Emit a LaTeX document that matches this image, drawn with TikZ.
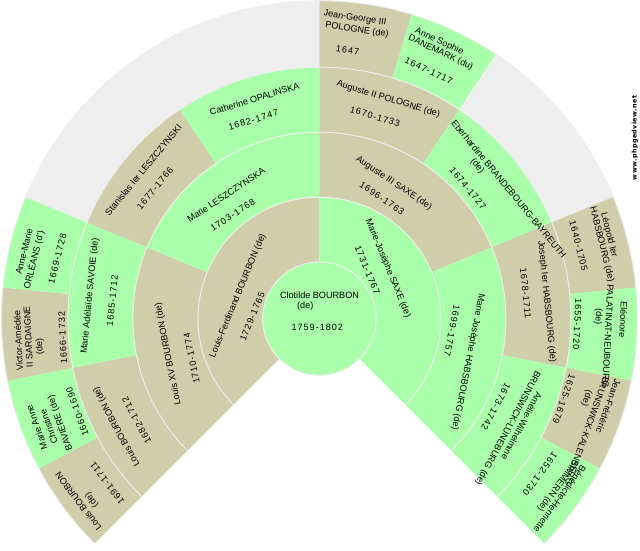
\documentclass[tikz,border=0pt]{standalone}
\usepackage{fontspec}
\setmainfont{Liberation Sans}
\newfontfamily\datefont[LetterSpace=11]{Liberation Sans}
\newfontfamily\urlfont[LetterSpace=6]{DejaVu Sans}
\definecolor{fangreen}{RGB}{170,255,170}
\definecolor{fantan}{RGB}{208,205,170}
\definecolor{fangrey}{RGB}{238,238,238}
\tikzset{
  lab/.style={inner sep=0pt,outer sep=0pt,font=\fontsize{9.1}{9.1}\selectfont,text=black},
  datelab/.style={inner sep=0pt,outer sep=0pt,font=\fontsize{9.1}{9.1}\datefont,text=black},
  mark url/.style={inner sep=0pt,font=\fontsize{6.4}{6.4}\urlfont\bfseries,text=black},
  ringline/.style={draw=fangrey,line width=1pt}
}
\newcommand\sect[5]{\fill[#5] (#1:#3) arc (#1:#2:#3) -- (#2:#4) arc (#2:#1:#4) -- cycle;}
\newcommand\lab[5]{\node[lab,rotate=#2] (#1) at (#3,550-#4) {#5};}
\newcommand\dat[5]{\node[datelab,rotate=#2] (#1) at (#3,550-#4) {#5};}
\begin{document}
\begin{tikzpicture}[x=1pt,y=1pt]
\useasboundingbox (0,0) rectangle (640,550);
\begin{scope}[shift={(319.4,231.3)}]
% generation 4
\sect{225}{208.125}{251.5}{318}{fantan}
\sect{208.125}{191.25}{251.5}{318}{fangreen}
\sect{191.25}{174.375}{251.5}{318}{fantan}
\sect{174.375}{157.5}{251.5}{318}{fangreen}
\sect{157.5}{90}{251.5}{318}{fangrey}
\sect{90}{73.125}{251.5}{318}{fantan}
\sect{73.125}{56.25}{251.5}{318}{fangreen}
\sect{56.25}{22.5}{251.5}{318}{fangrey}
\sect{22.5}{5.625}{251.5}{318}{fantan}
\sect{5.625}{-11.25}{251.5}{318}{fangreen}
\sect{-11.25}{-28.125}{251.5}{318}{fantan}
\sect{-28.125}{-45}{251.5}{318}{fangreen}
% generation 3
\sect{225}{191.25}{186.5}{251.5}{fantan}
\sect{191.25}{157.5}{186.5}{251.5}{fangreen}
\sect{157.5}{123.75}{186.5}{251.5}{fantan}
\sect{123.75}{90}{186.5}{251.5}{fangreen}
\sect{90}{56.25}{186.5}{251.5}{fantan}
\sect{56.25}{22.5}{186.5}{251.5}{fangreen}
\sect{22.5}{-11.25}{186.5}{251.5}{fantan}
\sect{-11.25}{-45}{186.5}{251.5}{fangreen}
% generation 2
\sect{225}{157.5}{121.5}{186.5}{fantan}
\sect{157.5}{90}{121.5}{186.5}{fangreen}
\sect{90}{22.5}{121.5}{186.5}{fantan}
\sect{22.5}{-45}{121.5}{186.5}{fangreen}
% generation 1
\sect{225}{90}{57}{121.5}{fantan}
\sect{90}{-45}{57}{121.5}{fangreen}
% ring lines
\draw[ringline] (225:318) arc (225:-45:318);
\draw[ringline] (225:251.5) arc (225:-45:251.5);
\draw[ringline] (225:186.5) arc (225:-45:186.5);
\draw[ringline] (225:121.5) arc (225:-45:121.5);
\fill[fangreen] (0,0) circle (56.7);
\draw[ringline] (0,0) circle (56.7);
\end{scope}
% centre
\lab{a1}{0}{319.5}{295.7}{Clotilde BOURBON}
\lab{a2}{0}{305.3}{306}{(de)}
\dat{a3}{0}{317.3}{327.3}{1759-1802}
% generation 1
\lab{b1}{67.5}{238}{296}{Louis-Ferdinand BOURBON (de)}
\dat{b2}{67.5}{252.3}{316.7}{1729-1765}
\lab{c1}{-67.5}{388}{268.3}{Marie-Josèphe SAXE (de)}
\dat{c2}{-67.5}{367.3}{270}{1731-1767}
% generation 2
\lab{d1}{101.25}{168.3}{354}{Louis XV BOURBON (de)}
\dat{d2}{101.25}{191.7}{358.3}{1710-1774}
\lab{e1}{33.75}{226}{195}{Marie LESZCZYNSKA}
\dat{e2}{33.75}{232.7}{215}{1703-1768}
\lab{f1}{-33.75}{394}{183.3}{Auguste III SAXE (de)}
\dat{f2}{-33.75}{382}{198.3}{1696-1763}
\lab{g1}{-101.25}{468}{362}{Marie Josèphe HABSBOURG (de)}
\dat{g2}{-101.25}{452}{330.7}{1699-1757}
% generation 3
\lab{h1}{118.125}{116.7}{426.7}{Louis BOURBON (de)}
\dat{h2}{118.125}{136.7}{420.7}{1682-1712}
\lab{i1}{84.375}{90}{296}{Marie Adélaïde SAVOIE (de)}
\dat{i2}{84.375}{112.3}{301}{1685-1712}
\lab{j1}{50.625}{143.3}{170}{Stanislas Ier LESZCZYNSKI}
\dat{j2}{50.625}{155}{188.3}{1677-1766}
\lab{k1}{16.875}{254.5}{99}{Catherine OPALINSKA}
\dat{k2}{16.875}{253.3}{120}{1682-1747}
\lab{l1}{-16.875}{388.3}{99.3}{Auguste II POLOGNE (de)}
\dat{l2}{-16.875}{375}{116.7}{1670-1733}
\lab{m1}{-50.625}{509}{189}{Eberhardine BRANDEBOURG-BAYREUTH}
\lab{m2}{-50.625}{477.3}{166}{(de)}
\dat{m3}{-50.625}{468}{188.3}{1674-1727}
\lab{n1}{-84.375}{546.7}{301.7}{Joseph Ier HABSBOURG (de)}
\dat{n2}{-84.375}{525.7}{293.3}{1678-1711}
\lab{o1}{-118.125}{521.7}{426}{Amélie-Wilhelmine}
\lab{o2}{-118.125}{508}{428.3}{BRUNSWICK-LÜNEBURG (de)}
\dat{o3}{-118.125}{496}{406.7}{1673-1742}
% generation 4
\lab{p1}{126.56}{78.3}{501.7}{Louis BOURBON}
\lab{p2}{126.56}{91.7}{500}{(de)}
\dat{p3}{126.56}{107.3}{483.3}{1691-1711}
\lab{q1}{109.69}{36.7}{427.3}{Marie Anne}
\lab{q2}{109.69}{48.7}{426.7}{Christine}
\lab{q3}{109.69}{60}{423}{BAVIÈRE (de)}
\dat{q4}{109.69}{77.3}{411.7}{1660-1690}
\lab{r1}{92.8}{18.3}{340.7}{Victor-Amédée}
\lab{r2}{92.8}{28.3}{336.7}{II SARDAIGNE}
\lab{r3}{92.8}{40}{346.7}{(de)}
\dat{r4}{92.8}{62.7}{337.7}{1666-1732}
\lab{s1}{75.94}{24}{251.3}{Anne-Marie}
\lab{s2}{75.94}{34}{260}{ORLÉANS (d')}
\dat{s3}{75.94}{57.3}{258.7}{1669-1728}
\lab{t1}{-8.44}{355}{18.3}{Jean-George III}
\lab{t2}{-8.44}{357}{30}{POLOGNE (de)}
\dat{t3}{-8.44}{347.7}{50}{1647}
\lab{u1}{-25.31}{439.3}{41.7}{Anne Sophie}
\lab{u2}{-25.31}{440.7}{52.7}{DANEMARK (du)}
\dat{u3}{-25.31}{428.7}{70.7}{1647-1717}
\lab{v1}{-75.94}{609}{235}{Léopold Ier}
\lab{v2}{-75.94}{601.7}{244.7}{HABSBOURG (de)}
\dat{v3}{-75.94}{578.7}{246}{1640-1705}
\lab{w1}{-92.8}{623.3}{320}{Eléonore}
\lab{w2}{-92.8}{608}{336}{PALATINAT-NEUBOURG}
\lab{w3}{-92.8}{598.3}{316.7}{(de)}
\dat{w4}{-92.8}{577.3}{324}{1655-1720}
\lab{x1}{-109.69}{608.5}{406}{Jean-Frédéric}
\lab{x2}{-109.69}{587}{431}{BRUNSWICK-KALENBERG}
\lab{x3}{-109.69}{586.7}{398.3}{(de)}
\dat{x4}{-109.69}{564}{399.3}{1625-1679}
\lab{y1}{-126.56}{560}{499}{Bénédicte-Henriette}
\lab{y2}{-126.56}{557.5}{486}{SIMMERN (de)}
\dat{y3}{-126.56}{540}{474}{1652-1730}
\node[mark url,rotate=90] (url) at (635,412) {www.phpgedview.net};
\end{tikzpicture}
\end{document}
